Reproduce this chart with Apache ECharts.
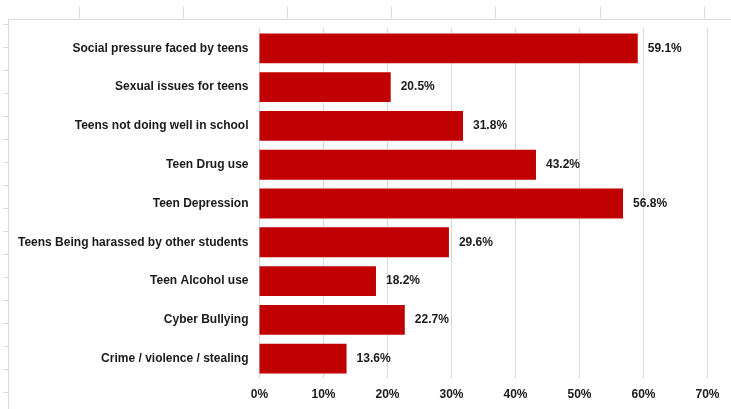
<!DOCTYPE html>
<html>
<head>
<meta charset="utf-8">
<script src="https://cdn.jsdelivr.net/npm/echarts@6/dist/echarts.min.js"></script>
<style>
html,body{margin:0;padding:0;background:#fff;}
#c{width:731px;height:409px;}
</style>
</head>
<body>
<div id="c"></div>
<script>
var categories = [
  "Social pressure faced by teens",
  "Sexual issues for teens",
  "Teens not doing well in school",
  "Teen Drug use",
  "Teen Depression",
  "Teens Being harassed by other students",
  "Teen Alcohol use",
  "Cyber Bullying",
  "Crime / violence / stealing"
];
var values = [59.1, 20.5, 31.8, 43.2, 56.8, 29.6, 18.2, 22.7, 13.6];
var xTicks = [0, 10, 20, 30, 40, 50, 60, 70];

var chart = echarts.init(document.getElementById('c'), null, {renderer: 'canvas'});

// spreadsheet-like frame decoration
var deco = [];
var lineStyle = {stroke: '#d9d9d9', lineWidth: 1};
deco.push({type: 'line', shape: {x1: 8.5, y1: 19.5, x2: 731, y2: 19.5}, style: lineStyle, silent: true});
deco.push({type: 'line', shape: {x1: 8.5, y1: 19.5, x2: 8.5, y2: 409}, style: lineStyle, silent: true});
[79, 183, 287, 391, 495, 600, 704].forEach(function (x) {
  deco.push({type: 'line', shape: {x1: x + 0.5, y1: 7, x2: x + 0.5, y2: 19}, style: lineStyle, silent: true});
});
[24, 47, 70, 93, 116, 139, 162, 185, 208, 231, 254, 277, 300, 323, 346, 369, 392].forEach(function (y) {
  deco.push({type: 'line', shape: {x1: 3, y1: y + 0.5, x2: 8, y2: y + 0.5}, style: lineStyle, silent: true});
});

chart.setOption({
  animation: false,
  backgroundColor: '#fff',
  textStyle: {fontFamily: 'Liberation Sans, Arial, sans-serif'},
  graphic: deco,
  grid: {left: 259.5, right: 23.5, top: 29, bottom: 31, containLabel: false},
  xAxis: {
    type: 'value',
    min: 0, max: 70, interval: 10,
    axisLine: {show: false},
    axisTick: {show: false},
    splitLine: {show: true, lineStyle: {color: '#d9d9d9', width: 1}},
    axisLabel: {
      formatter: function (v) { return xTicks.indexOf(v) >= 0 ? v + '%' : ''; },
      color: '#1a1a1a', fontWeight: 'bold', fontSize: 12, margin: 11
    }
  },
  yAxis: {
    type: 'category',
    data: categories,
    inverse: true,
    axisLine: {show: false},
    axisTick: {show: false},
    axisLabel: {color: '#1a1a1a', fontWeight: 'bold', fontSize: 12, margin: 11}
  },
  series: [{
    type: 'bar',
    data: values,
    barCategoryGap: '23%',
    itemStyle: {color: '#c00000'},
    label: {
      show: true, position: 'right', distance: 10,
      formatter: function (p) { return p.value.toFixed(1) + '%'; },
      color: '#1a1a1a', fontWeight: 'bold', fontSize: 12
    }
  }]
});
</script>
</body>
</html>
